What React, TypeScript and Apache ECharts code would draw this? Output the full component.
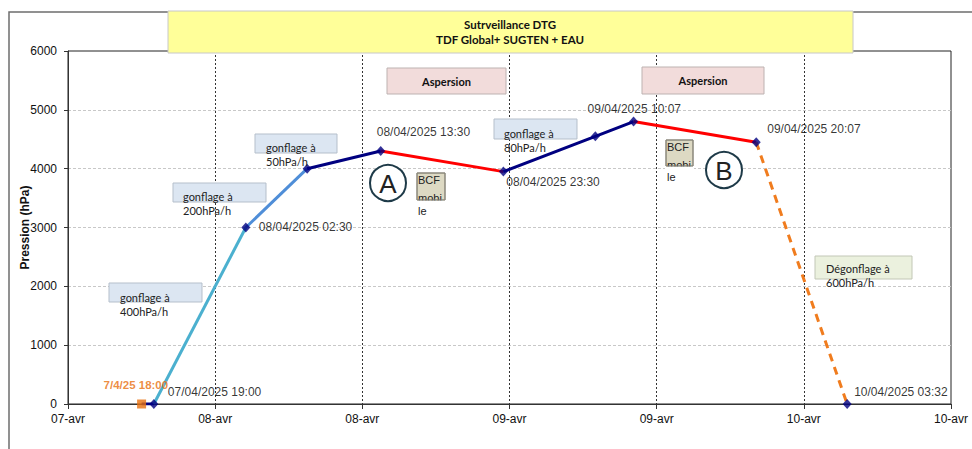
import React, { useEffect, useRef } from "react";
import * as echarts from "echarts";

// ---- data ----
const times = [
  "07/04/2025 18:00",
  "07/04/2025 19:00",
  "08/04/2025 02:30",
  "08/04/2025 07:30",
  "08/04/2025 13:30",
  "08/04/2025 23:30",
  "09/04/2025 07:00",
  "09/04/2025 10:07",
  "09/04/2025 20:07",
  "10/04/2025 03:32",
];
const pressures = [0, 0, 3000, 4000, 4300, 3950, 4550, 4800, 4450, 0];
const pointLabels = [
  "7/4/25 18:00",
  "07/04/2025 19:00",
  "08/04/2025 02:30",
  "",
  "08/04/2025 13:30",
  "08/04/2025 23:30",
  "",
  "09/04/2025 10:07",
  "09/04/2025 20:07",
  "10/04/2025 03:32",
];
const xMinTime = "07/04/2025 12:00";
const xMaxTime = "10/04/2025 12:00";
const xTickHours = 12;
const monthLabel = "avr";
const yMin = 0;
const yMax = 6000;
const yStep = 1000;
const yAxisTitle = "Pression (hPa)";
const titleLines = ["Sutrveillance DTG", "TDF Global+ SUGTEN + EAU"];
const rateNotes = [
  "gonflage à\n400hPa/h",
  "gonflage à\n200hPa/h",
  "gonflage à\n50hPa/h",
  "gonflage à\n80hPa/h",
];
const deflateNote = "Dégonflage à\n600hPa/h";
const sprayNote = "Aspersion";
const phaseNames = ["A", "B"];
const bcfNote = ["BCF", "mobi", "le"];

// ---- helpers ----
const toHours = (s: string) => {
  const [d, t] = s.split(" ");
  const [dd] = d.split("/").map(Number);
  const [hh, mm] = t.split(":").map(Number);
  return (dd - 7) * 24 + hh + mm / 60;
};
const pad2 = (n: number) => (n < 10 ? "0" + n : "" + n);

const NAVY = "#000080";
const RED = "#FF0000";
const segments = [
  { from: 0, to: 1, color: NAVY },
  { from: 1, to: 2, color: "#4BB0CF" },
  { from: 2, to: 3, color: "#4F8ED8" },
  { from: 3, to: 4, color: NAVY },
  { from: 4, to: 5, color: RED },
  { from: 5, to: 7, color: NAVY },
  { from: 7, to: 8, color: RED },
  { from: 8, to: 9, color: "#F07C1E", dashed: true },
];
// label placement relative to the point (left edge, vertical centre)
const labelOffsets: Record<number, [number, number]> = {
  0: [-38, -19],
  1: [14, -12],
  2: [13, 0],
  4: [-4, -19],
  5: [3, 11],
  7: [-46, -12],
  8: [11, -13],
  9: [7, -12],
};

const NOTE_FONT = "Lato";
const LABEL_FONT = "Liberation Sans";

function noteBox(
  x: number, y: number, w: number, h: number, fill: string, stroke: string,
  text: string, tx: number, ty: number
) {
  return [
    { type: "rect", z: 50, shape: { x, y, width: w, height: h }, style: { fill, stroke, lineWidth: 1 } },
    {
      type: "text", z: 51, x: tx, y: ty,
      style: { text, fill: "#222", fontFamily: NOTE_FONT, fontSize: 11, lineHeight: 14.5, textAlign: "left", textVerticalAlign: "top" },
    },
  ];
}

function sprayBox(x: number, y: number, w: number, h: number) {
  return [
    { type: "rect", z: 50, shape: { x, y, width: w, height: h }, style: { fill: "#F2DCDB", stroke: "#BDB2B1", lineWidth: 1 } },
    {
      type: "text", z: 51, x: x + w / 2, y: y + h / 2,
      style: { text: sprayNote, fill: "#111", fontFamily: NOTE_FONT, fontWeight: "bold", fontSize: 11, textAlign: "center", textVerticalAlign: "middle" },
    },
  ];
}

function phaseCircle(cx: number, cy: number, name: string) {
  return [
    { type: "circle", z: 50, shape: { cx, cy, r: 18 }, style: { fill: "#fff", stroke: "#1E3A48", lineWidth: 2 } },
    {
      type: "text", z: 51, x: cx, y: cy + 1,
      style: { text: name, fill: "#222", fontFamily: LABEL_FONT, fontSize: 26, textAlign: "center", textVerticalAlign: "middle" },
    },
  ];
}

function bcfBox(x: number, y: number, w: number, h: number) {
  const font = { fontFamily: LABEL_FONT, fontSize: 11, fill: "#222", textAlign: "left", textVerticalAlign: "middle" };
  return [
    { type: "rect", z: 50, shape: { x, y, width: w, height: h }, style: { fill: "#DDD9C3", stroke: "#8A877A", lineWidth: 1 } },
    { type: "text", z: 51, x: x + 1, y: y + 7, style: { ...font, text: bcfNote[0] } },
    { type: "text", z: 51, x: x + 1, y: y + 25, style: { ...font, text: bcfNote[1] } },
    { type: "rect", z: 52, shape: { x: x - 1, y: y + h + 0.5, width: w + 2, height: 7 }, style: { fill: "#fff" } },
    { type: "rect", z: 53, shape: { x, y, width: w, height: h }, style: { fill: "none", stroke: "#8A877A", lineWidth: 1 } },
    { type: "text", z: 54, x: x + 1, y: y + h + 11, style: { ...font, text: bcfNote[2] } },
  ];
}

export default function App() {
  const ref = useRef<HTMLDivElement>(null);

  useEffect(() => {
    if (!ref.current) return;
    const chart = echarts.init(ref.current, undefined, { renderer: "svg" });
    const pts = times.map((t, i) => [toHours(t), pressures[i]]);

    const lineSeries = segments.map((s) => ({
      type: "line",
      data: pts.slice(s.from, s.to + 1),
      showSymbol: false,
      symbol: "none",
      z: 3,
      lineStyle: { color: s.color, width: 3, type: s.dashed ? [8, 6] : "solid" },
      silent: true,
    }));

    const mkLabel = (i: number, color: string, bold: boolean) => {
      const off = labelOffsets[i];
      if (!off || !pointLabels[i]) return { show: false };
      return {
        show: true,
        formatter: pointLabels[i],
        position: [4.5 + off[0], 4.5 + off[1]],
        align: "left",
        verticalAlign: "middle",
        color,
        fontFamily: LABEL_FONT,
        fontSize: bold ? 11.5 : 12,
        fontWeight: bold ? "bold" : "normal",
        textBorderWidth: 0,
      };
    };

    const diamondData = pts.slice(1).map((p, k) => ({
      value: p,
      label: mkLabel(k + 1, "#000", false),
    }));

    const option: any = {
      animation: false,
      backgroundColor: "#fff",
      grid: { left: 68, top: 51, right: 21, bottom: 45, show: true, borderColor: "#222", borderWidth: 1, backgroundColor: "transparent" },
      xAxis: {
        type: "value",
        min: toHours(xMinTime),
        max: toHours(xMaxTime),
        interval: xTickHours,
        axisLine: { show: true, lineStyle: { color: "#333", width: 1 } },
        axisTick: { show: true, length: 5, lineStyle: { color: "#333" } },
        axisLabel: {
          margin: 9,
          color: "#111",
          fontFamily: LABEL_FONT,
          fontSize: 12,
          showMinLabel: true,
          showMaxLabel: true,
          formatter: (v: number) => pad2(7 + Math.floor(v / 24 + 1e-9)) + "-" + monthLabel,
        },
        splitLine: { show: true, showMinLine: false, showMaxLine: false, lineStyle: { color: "#333", type: [2, 2], width: 1 } },
      },
      yAxis: {
        type: "value",
        min: yMin,
        max: yMax,
        interval: yStep,
        name: yAxisTitle,
        nameLocation: "middle",
        nameGap: 37,
        nameRotate: 90,
        nameMoveOverlap: false,
        nameTextStyle: { fontFamily: LABEL_FONT, fontWeight: "bold", fontSize: 12, color: "#111" },
        axisLine: { show: true, lineStyle: { color: "#333", width: 1 } },
        axisTick: { show: true, length: 4, lineStyle: { color: "#333" } },
        axisLabel: { margin: 11, color: "#111", fontFamily: LABEL_FONT, fontSize: 12, formatter: (v: number) => String(v) },
        splitLine: { show: true, showMinLine: false, showMaxLine: false, lineStyle: { color: "#C8C8C8", type: [3, 2], width: 1 } },
      },
      series: [
        ...lineSeries,
        {
          type: "scatter",
          z: 5,
          symbol: "diamond",
          symbolSize: [9, 10],
          itemStyle: { color: NAVY },
          data: diamondData,
          silent: true,
        },
        {
          type: "scatter",
          z: 4,
          symbol: "rect",
          symbolSize: 9,
          itemStyle: { color: "#E8700F" },
          data: [{ value: pts[0], label: mkLabel(0, "#E8700F", true) }],
          silent: true,
        },
      ],
      graphic: [
        // outer frame
        { type: "rect", z: 1, shape: { x: 9, y: 12, width: 1000, height: 500 }, style: { fill: "none", stroke: "#6E6E6E", lineWidth: 1.5 } },
        // title box
        { type: "rect", z: 60, shape: { x: 168, y: 11, width: 685, height: 42 }, style: { fill: "#FFFF99", stroke: "#C8C8C8", lineWidth: 1 } },
        {
          type: "text", z: 61, x: 510, y: 32,
          style: {
            text: titleLines.join("\n"), fill: "#111", fontFamily: NOTE_FONT, fontWeight: "bold", fontSize: 11.5,
            lineHeight: 15, textAlign: "center", textVerticalAlign: "middle",
          },
        },
        ...noteBox(109, 283, 93, 19, "#DCE6F2", "#B5BFCB", rateNotes[0], 120, 290),
        ...noteBox(173, 183, 93, 19, "#DCE6F2", "#B5BFCB", rateNotes[1], 183, 189),
        ...noteBox(255, 134, 82, 19, "#DCE6F2", "#B5BFCB", rateNotes[2], 266, 140),
        ...noteBox(494, 119, 83, 20, "#DCE6F2", "#B5BFCB", rateNotes[3], 504, 126),
        ...noteBox(815, 256, 97, 23, "#EBF1DE", "#C2C7B6", deflateNote, 826, 261),
        ...sprayBox(387, 68, 119, 26),
        ...sprayBox(642, 67, 122, 27),
        ...phaseCircle(388, 183, phaseNames[0]),
        ...phaseCircle(724, 170, phaseNames[1]),
        ...bcfBox(417, 173, 28, 27),
        ...bcfBox(666, 140, 27, 26),
      ],
    };
    chart.setOption(option);
    return () => chart.dispose();
  }, []);

  return (
    <div
      ref={ref}
      style={{ position: "fixed", left: 0, top: 0, width: 972, height: 449, background: "#fff" }}
    />
  );
}
